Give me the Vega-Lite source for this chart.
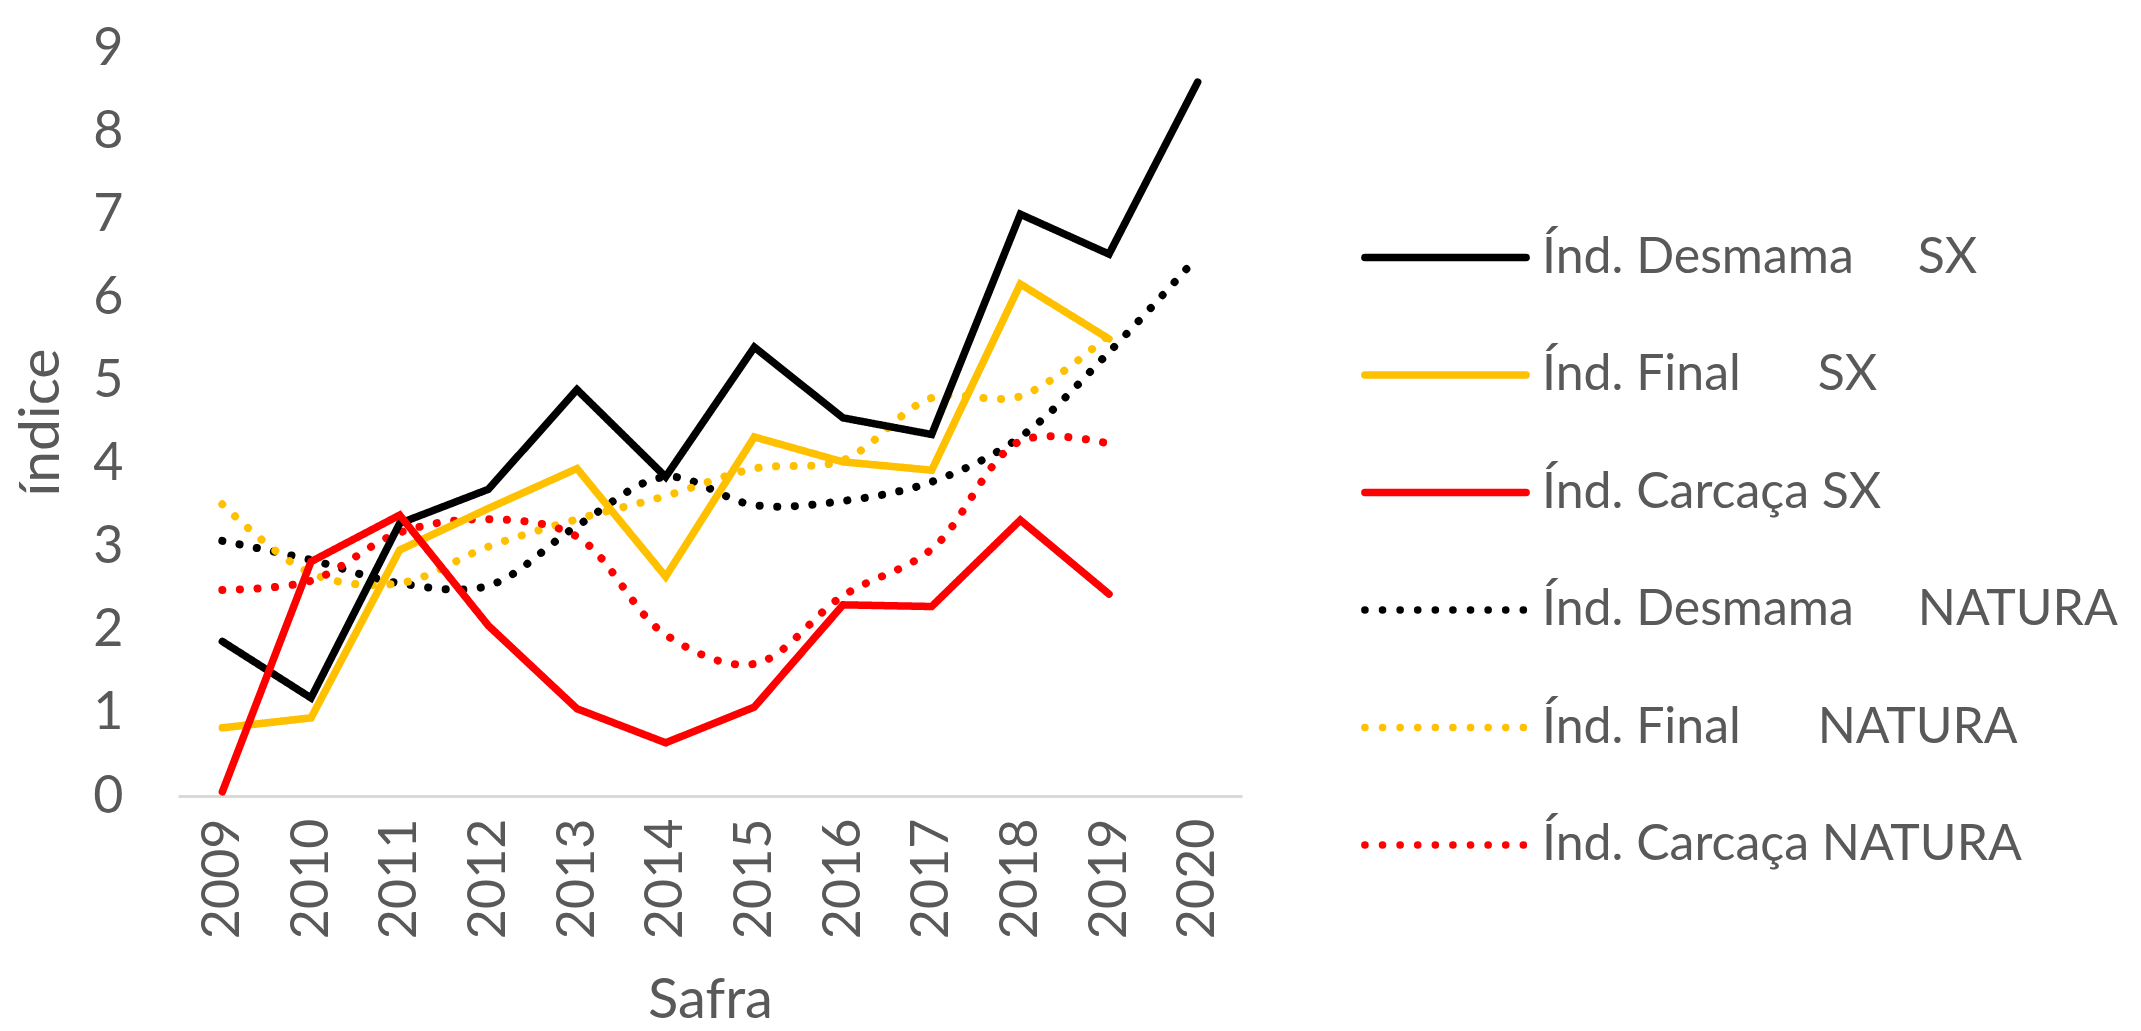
{
  "$schema": "https://vega.github.io/schema/vega-lite/v6.json",
  "width": 1064,
  "height": 748,
  "autosize": "none",
  "padding": {"left": 178, "top": 48, "right": 899, "bottom": 235},
  "background": "white",
  "config": {
    "view": {"stroke": null},
    "font": "Lato",
    "axis": {"labelFont": "Lato", "titleFont": "Lato", "labelColor": "#595959", "titleColor": "#595959", "titleFontWeight": "normal", "grid": false, "ticks": false}
  },
  "data": {"values": [
    {"ano":"2009","serie":"DSX","v":1.86},{"ano":"2010","serie":"DSX","v":1.18},{"ano":"2011","serie":"DSX","v":3.28},{"ano":"2012","serie":"DSX","v":3.69},{"ano":"2013","serie":"DSX","v":4.89},{"ano":"2014","serie":"DSX","v":3.84},{"ano":"2015","serie":"DSX","v":5.40},{"ano":"2016","serie":"DSX","v":4.55},{"ano":"2017","serie":"DSX","v":4.35},{"ano":"2018","serie":"DSX","v":7.00},{"ano":"2019","serie":"DSX","v":6.52},{"ano":"2020","serie":"DSX","v":8.59},
    {"ano":"2009","serie":"FSX","v":0.82},{"ano":"2010","serie":"FSX","v":0.94},{"ano":"2011","serie":"FSX","v":2.96},{"ano":"2012","serie":"FSX","v":3.46},{"ano":"2013","serie":"FSX","v":3.94},{"ano":"2014","serie":"FSX","v":2.64},{"ano":"2015","serie":"FSX","v":4.32},{"ano":"2016","serie":"FSX","v":4.02},{"ano":"2017","serie":"FSX","v":3.92},{"ano":"2018","serie":"FSX","v":6.16},{"ano":"2019","serie":"FSX","v":5.50},
    {"ano":"2009","serie":"CSX","v":0.05},{"ano":"2010","serie":"CSX","v":2.82},{"ano":"2011","serie":"CSX","v":3.38},{"ano":"2012","serie":"CSX","v":2.05},{"ano":"2013","serie":"CSX","v":1.05},{"ano":"2014","serie":"CSX","v":0.64},{"ano":"2015","serie":"CSX","v":1.07},{"ano":"2016","serie":"CSX","v":2.30},{"ano":"2017","serie":"CSX","v":2.28},{"ano":"2018","serie":"CSX","v":3.32},{"ano":"2019","serie":"CSX","v":2.43},
    {"ano":"2009","serie":"DN","v":3.07},{"ano":"2010","serie":"DN","v":2.84},{"ano":"2011","serie":"DN","v":2.56},{"ano":"2012","serie":"DN","v":2.53},{"ano":"2013","serie":"DN","v":3.25},{"ano":"2014","serie":"DN","v":3.84},{"ano":"2015","serie":"DN","v":3.50},{"ano":"2016","serie":"DN","v":3.55},{"ano":"2017","serie":"DN","v":3.78},{"ano":"2018","serie":"DN","v":4.32},{"ano":"2019","serie":"DN","v":5.34},{"ano":"2020","serie":"DN","v":6.49},
    {"ano":"2009","serie":"FN","v":3.51},{"ano":"2010","serie":"FN","v":2.68},{"ano":"2011","serie":"FN","v":2.56},{"ano":"2012","serie":"FN","v":3.00},{"ano":"2013","serie":"FN","v":3.33},{"ano":"2014","serie":"FN","v":3.61},{"ano":"2015","serie":"FN","v":3.94},{"ano":"2016","serie":"FN","v":4.04},{"ano":"2017","serie":"FN","v":4.79},{"ano":"2018","serie":"FN","v":4.81},{"ano":"2019","serie":"FN","v":5.55},
    {"ano":"2009","serie":"CN","v":2.48},{"ano":"2010","serie":"CN","v":2.59},{"ano":"2011","serie":"CN","v":3.17},{"ano":"2012","serie":"CN","v":3.33},{"ano":"2013","serie":"CN","v":3.12},{"ano":"2014","serie":"CN","v":1.94},{"ano":"2015","serie":"CN","v":1.59},{"ano":"2016","serie":"CN","v":2.41},{"ano":"2017","serie":"CN","v":2.97},{"ano":"2018","serie":"CN","v":4.27},{"ano":"2019","serie":"CN","v":4.24}
  ]},
  "encoding": {
    "x": {"field": "ano", "type": "ordinal", "scale": {"type": "point", "padding": 0.5},
      "axis": {"title": "Safra", "labelAngle": 270, "labelFontSize": 52, "labelPadding": 22, "titleFontSize": 56, "titlePadding": 35, "domainColor": "#d9d9d9", "domainWidth": 3}},
    "y": {"field": "v", "type": "quantitative", "scale": {"domain": [0, 9], "nice": false},
      "axis": {"title": "índice", "values": [0,1,2,3,4,5,6,7,8,9], "labelFontSize": 52, "labelPadding": 55, "titleFontSize": 57, "titlePadding": 22, "domain": false}},
    "color": {"field": "serie", "type": "nominal",
      "scale": {"domain": ["DSX","FSX","CSX","DN","FN","CN"], "range": ["#000000","#FFC000","#FF0000","#000000","#FFC000","#FF0000"]},
      "legend": {"title": null, "orient": "none", "legendX": 1183, "legendY": 125, "symbolType": "stroke", "symbolSize": 26000, "symbolStrokeWidth": 7.5, "labelFontSize": 50, "labelFont": "Lato", "labelColor": "#595959", "labelOffset": 12, "rowPadding": 7.5, "labelLimit": 1000,
        "labelExpr": "{'DSX':'Índ. Desmama\u00a0\u00a0\u00a0\u00a0\u00a0SX','FSX':'Índ. Final\u00a0\u00a0\u00a0\u00a0\u00a0\u00a0SX','CSX':'Índ. Carcaça SX','DN':'Índ. Desmama\u00a0\u00a0\u00a0\u00a0\u00a0NATURA','FN':'Índ. Final\u00a0\u00a0\u00a0\u00a0\u00a0\u00a0NATURA','CN':'Índ. Carcaça NATURA'}[datum.value]",
        "encode": {"symbols": {"update": {"strokeCap": {"value": "round"}}}}}},
    "strokeDash": {"field": "serie", "type": "nominal",
      "scale": {"domain": ["DSX","FSX","CSX","DN","FN","CN"], "range": [[1,0],[1,0],[1,0],[0.1,17.5],[0.1,17.5],[0.1,17.5]]}}
  },
  "layer": [
    {"transform": [{"filter": "indexof(['DN','FN','CN'], datum.serie) >= 0"}],
     "mark": {"type": "line", "strokeWidth": 8, "strokeCap": "round", "interpolate": "catmull-rom"}},
    {"transform": [{"filter": "indexof(['DSX','FSX','CSX'], datum.serie) >= 0"}],
     "mark": {"type": "line", "strokeWidth": 7.5, "strokeCap": "round", "strokeJoin": "miter"}}
  ]
}
